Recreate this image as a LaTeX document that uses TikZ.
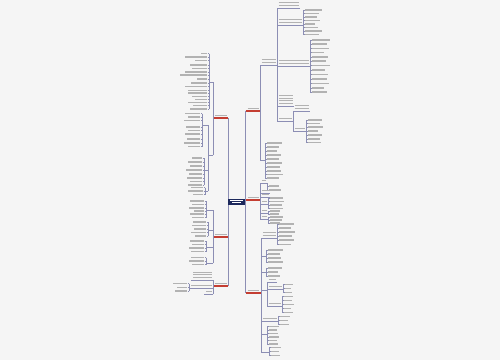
\documentclass[tikz,border=0pt]{standalone}
\definecolor{bgc}{RGB}{245,245,245}
\definecolor{connc}{RGB}{140,142,180}
\definecolor{txtc}{RGB}{178,178,178}
\definecolor{redc}{RGB}{196,62,50}
\definecolor{navy}{RGB}{28,40,92}
% right leaf: bracket x, y, width
\newcommand\lf[3]{\draw[conn] (#1,#2) -- ++(1.5,0); \draw[txt] (#1+2,#2) -- ++(#3,0);}
% left leaf
\newcommand\lfl[3]{\draw[conn] (#1,#2) -- ++(-1.5,0); \draw[txt] (#1-2,#2) -- ++(-#3,0);}
% right inner node: x, y(underline), width, lines
\newcommand\ndr[4]{\draw[conn] (#1,#2) -- ++(#3,0); \foreach \k in {1,...,#4}{\draw[txt] (#1+1.5,#2-2.6*\k) -- ++(#3-3,0);}}
% left inner node
\newcommand\ndl[4]{\draw[conn] (#1,#2) -- ++(-#3,0); \foreach \k in {1,...,#4}{\draw[txt] (#1-1.5,#2-2.6*\k) -- ++(-#3+3,0);}}
\begin{document}
\begin{tikzpicture}[x=1pt,y=-1pt,
  conn/.style={draw=connc,line width=0.6pt},
  txt/.style={draw=txtc,line width=1.1pt},
  redbar/.style={draw=redc,line width=1.6pt}]
\fill[bgc] (0,0) rectangle (500,360);
\useasboundingbox (0,0) rectangle (500,360);

% spines
\draw[conn] (228,118) -- (228,286);
\draw[conn] (245.5,111) -- (245.5,293);
% center
\node[fill=navy,minimum width=17pt,minimum height=6pt,inner sep=0pt] (center) at (236.5,201.5) {};
\draw[white,line width=0.7pt] (230,200.3) -- (243,200.3);
\draw[white,line width=0.7pt] (232,202.8) -- (241,202.8);

% ===== Right branch 1 =====
\coordinate (R1) at (245.5,111);
\draw[txt] (247.5,108.5) -- (258.5,108.5);
\draw[redbar] (R1) -- ++(14.5,0);
\draw[conn] (260,65) -- (260,160);
\ndr{260}{65}{17}{2}
\draw[conn] (277,8) -- (277,121);
\ndr{277}{8}{23}{2}
\ndr{277}{25}{26}{2}
\draw[conn] (303,10) -- (303,34.5);
\foreach \y/\w in {10/17,13.5/14,17/12,20.5/15,24/10,27.5/13,31/17,34.5/14} {\lf{303}{\y}{\w}}
\ndr{277}{66}{33}{2}
\draw[conn] (310,40) -- (310,92);
\foreach \y/\w in {40/18,44/15,48.5/17,52.5/12,57/16,61/14,65.5/18,70/13,74.5/16,79/15,83.5/17,88/12,92/15} {\lf{310}{\y}{\w}}
\ndr{277}{106}{17}{4}
\ndr{277}{121}{16}{1}
\draw[conn] (293,111) -- (293,131);
\ndr{293}{111}{17}{2}
\ndr{293}{131}{13}{1}
\draw[conn] (306,120) -- (306,142.5);
\foreach \y/\w in {120/14,123.5/12,127/15,131/10,135/14,139/12,142.5/13} {\lf{306}{\y}{\w}}
\draw[conn] (260,160) -- (265,160);
\draw[conn] (265,143) -- (265,178);
\foreach \y/\w in {143/15,147/12,151/10,155/14,159/12,163/15,167/13,171/14,174.5/16,178/12} {\lf{265}{\y}{\w}}

% ===== Right branch 2 =====
\coordinate (R2) at (245.5,200);
\draw[txt] (247.5,197.5) -- (258.5,197.5);
\draw[redbar] (R2) -- ++(14.5,0);
\draw[conn] (260,183) -- (260,219);
\ndr{260}{183}{7}{1}
\draw[conn] (267,183) -- (267,190);
\foreach \y/\w in {186/10,190/12} {\lf{267}{\y}{\w}}
\ndr{260}{193}{10}{1}
\ndr{260}{197.5}{10}{1}
\ndr{260}{204}{8}{1}
\draw[conn] (268,198) -- (268,208.5);
\foreach \y/\w in {198/13,201.5/14,205/12,208.5/13} {\lf{268}{\y}{\w}}
\ndr{260}{213}{8}{1}
\draw[conn] (268,211) -- (268,214);
\foreach \y/\w in {211/10,214/9} {\lf{268}{\y}{\w}}
\ndr{260}{219}{8}{1}
\draw[conn] (268,217) -- (268,223);
\foreach \y/\w in {217/13,220/12,223/10} {\lf{268}{\y}{\w}}

% ===== Right branch 3 =====
\coordinate (R3) at (245.5,293);
\draw[txt] (247.5,290.5) -- (258.5,290.5);
\draw[redbar] (R3) -- ++(15,0);
\draw[conn] (261,238) -- (261,352);
\ndr{261}{238}{16}{2}
\draw[conn] (277,224) -- (277,244.5);
\foreach \y/\w in {224/15,228/12,232/16,236/13,240/15,244.5/12} {\lf{277}{\y}{\w}}
\draw[conn] (261,256) -- (266,256);
\draw[conn] (266,250) -- (266,262);
\foreach \y/\w in {250/15,254/12,258/13,262/15} {\lf{266}{\y}{\w}}
\draw[conn] (261,272) -- (266,272);
\draw[conn] (266,268) -- (266,276);
\foreach \y/\w in {268/14,272/10,276/12} {\lf{266}{\y}{\w}}
\draw[conn] (261,290) -- (267,290);
\draw[conn] (267,282) -- (267,306);
\ndr{267}{282}{10}{1}
\ndr{267}{289}{16}{1}
\draw[conn] (283,284.5) -- (283,292.5);
\foreach \y/\w in {284.5/8,288.5/6,292.5/7} {\lf{283}{\y}{\w}}
\ndr{267}{306}{15}{1}
\draw[conn] (282,296.5) -- (282,312.5);
\foreach \y/\w in {296.5/9,300.5/8,304.5/10,308.5/7,312.5/9} {\lf{282}{\y}{\w}}
\ndr{261}{321}{17}{1}
\draw[conn] (278,316.5) -- (278,324.5);
\foreach \y/\w in {316.5/10,320.5/8,324.5/9} {\lf{278}{\y}{\w}}
\draw[conn] (261,334) -- (267,334);
\draw[conn] (267,326.5) -- (267,344);
\foreach \y/\w in {326.5/10,330/8,333.5/9,337/10,340.5/8,344/9} {\lf{267}{\y}{\w}}
\draw[conn] (261,352) -- (269,352);
\draw[conn] (269,347.5) -- (269,355.5);
\foreach \y/\w in {347.5/10,351.5/8,355.5/9} {\lf{269}{\y}{\w}}

% ===== Left branch 1 =====
\coordinate (L1) at (228,118);
\draw[txt] (214.5,115.5) -- (226.5,115.5);
\draw[redbar] (L1) -- ++(-15,0);
\draw[conn] (213,82) -- (213,155);
\draw[conn] (213,82) -- (209,82);
\draw[conn] (209,53.5) -- (209,109);
\foreach \y/\w in {53.5/6,57/22,60.5/12,65/17,68.5/15,72/22,75/27,79/10,83/16,86.5/22,90.5/19,93/19,96.5/15,99.5/12,102.5/19,105.5/14,109/17} {\lfl{209}{\y}{\w}}
\draw[conn] (213,155) -- (208,155);
\draw[conn] (208,125) -- (208,191);
\draw[conn] (208,125) -- (202,125);
\draw[conn] (202,113.5) -- (202,146.5);
\foreach \y/\w in {113.5/15,117/12,120.5/16,127/14,130.5/12,134/15,139/13,143/16,146.5/12} {\lfl{202}{\y}{\w}}
\draw[conn] (208,170) -- (204,170);
\draw[conn] (204,158) -- (204,185);
\foreach \y/\w in {158/10,162/14,166/12,170/16,174/13,178/15,181.5/12,185/14} {\lfl{204}{\y}{\w}}
\draw[conn] (208,191) -- (205,191);
\draw[conn] (205,187.5) -- (205,194.5);
\foreach \y/\w in {187.5/12,191/15,194.5/10} {\lfl{205}{\y}{\w}}

% ===== Left branch 2 =====
\coordinate (L2) at (228,237);
\draw[txt] (214.5,234.5) -- (226.5,234.5);
\draw[redbar] (L2) -- ++(-15,0);
\draw[conn] (213,210) -- (213,263);
\draw[conn] (213,210) -- (206,210);
\draw[conn] (206,201) -- (206,217.5);
\foreach \y/\w in {201/14,204.5/12,208/15,211/10,214/14,217.5/12} {\lfl{206}{\y}{\w}}
\draw[conn] (213,230) -- (208,230);
\draw[conn] (208,222) -- (208,236);
\foreach \y/\w in {222/13,225.5/14,229/12,232.5/15,236/11} {\lfl{208}{\y}{\w}}
\draw[conn] (213,247) -- (206,247);
\draw[conn] (206,241) -- (206,251.5);
\foreach \y/\w in {241/14,244.5/12,248/15,251.5/13} {\lfl{206}{\y}{\w}}
\draw[conn] (213,263) -- (206,263);
\draw[conn] (206,257.5) -- (206,264.5);
\foreach \y/\w in {257.5/13,261/15,264.5/12} {\lfl{206}{\y}{\w}}

% ===== Left branch 3 =====
\coordinate (L3) at (228,286);
\draw[txt] (214.5,283.5) -- (226.5,283.5);
\draw[redbar] (L3) -- ++(-15,0);
\draw[conn] (213,280) -- (213,294);
\ndl{213}{280}{22}{3}
\ndl{213}{288}{24}{1}
\draw[conn] (189,283.5) -- (189,291);
\foreach \y/\w in {283.5/14,287.5/10,291/12} {\lfl{189}{\y}{\w}}
\ndl{213}{294}{9}{1}
\end{tikzpicture}
\end{document}
